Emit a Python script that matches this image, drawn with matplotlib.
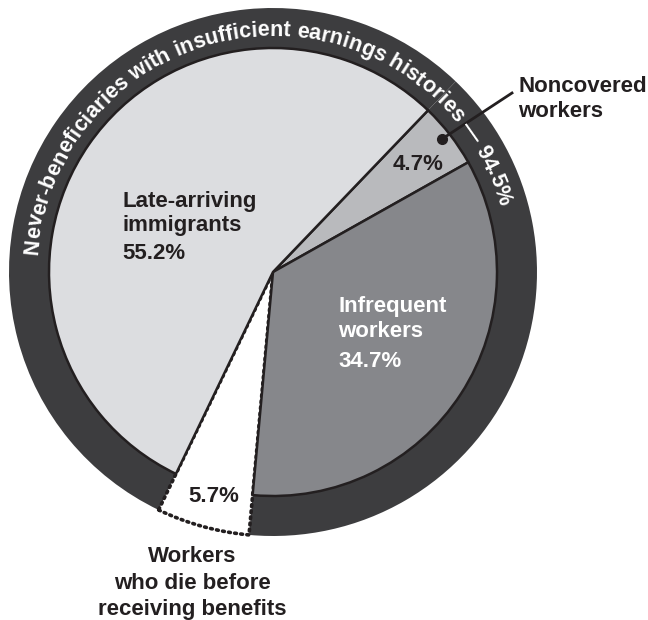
import numpy as np
import matplotlib
matplotlib.use('Agg')
import matplotlib.pyplot as plt
from matplotlib.font_manager import FontProperties, findfont, get_font

# slices, clockwise from the upper right
shares = [4.7, 34.7, 5.7, 55.2]
slice_colors = ['#b9babd', '#86878b', '#ffffff', '#dcdde0']
pct_labels = ['4.7%', '34.7%', '5.7%', '55.2%']
names = [['Noncovered', 'workers'],
         ['Infrequent', 'workers'],
         ['Workers', 'who die before', 'receiving benefits'],
         ['Late-arriving', 'immigrants']]
ring_label = 'Never-beneficiaries with insufficient earnings histories \u2014 94.5%'

DARK = '#3d3d3f'
INK = '#231f20'
FONT = ['Liberation Sans', 'DejaVu Sans']

W, H = 648, 620
cx, cy = 273, H - 272       # pie centre, in pixel units (y up)
r_in, r_out = 224, 264
start = 46.2

fig = plt.figure(figsize=(W / 100, H / 100), dpi=100)
ax = fig.add_axes([0, 0, 1, 1])

# dark ring behind everything, with a gap where the white slice pokes out
ring_vals = [shares[0] + shares[1], shares[2], shares[3]]
ring, _ = ax.pie(ring_vals, radius=r_out, center=(cx, cy), startangle=start,
                 counterclock=False, colors=[DARK, 'white', DARK],
                 wedgeprops=dict(linewidth=0))
for w in ring:
    w.set_zorder(1)
gap = ring[1]
gap.set_zorder(1.5)
gap.set_edgecolor(INK)
gap.set_linewidth(2.6)
gap.set_linestyle((0, (0.5, 1.2)))
gap.set_capstyle('round')

# inner pie
inner, _ = ax.pie(shares, radius=r_in, center=(cx, cy), startangle=start,
                  counterclock=False, colors=slice_colors,
                  wedgeprops=dict(edgecolor=INK, linewidth=1.8))
for w in inner:
    w.set_zorder(2)
inner[2].set_visible(False)

ax.set_xlim(0, W)
ax.set_ylim(0, H)
ax.axis('off')

lab = dict(fontsize=16, fontweight='bold', family=FONT, va='baseline', zorder=5)


def put_lines(x, baselines, lines, ha='left', color=INK):
    for yb, s in zip(baselines, lines):
        ax.text(x, H - yb, s, ha=ha, color=color, **lab)


# slice labels
put_lines(122, [207, 231, 259], names[3] + [pct_labels[3]])
put_lines(338, [312, 337, 367], names[1] + [pct_labels[1]], color='white')
put_lines(518, [92, 117], names[0])
put_lines(192, [562, 589, 615], names[2], ha='center')
ax.text(418, H - 170, pct_labels[0], ha='center', color=INK, **lab)
ax.text(214, H - 502, pct_labels[2], ha='center', color=INK, **lab)

# leader for noncovered
ax.plot([442, 512], [H - 139, H - 93], color=INK, lw=2, zorder=5)
ax.plot([442], [H - 139], 'o', color=INK, ms=7, zorder=6)

# text bent along the ring
fp = FontProperties(family=FONT, weight='bold', size=15.6)
font = get_font(findfont(fp))
font.set_size(fp.get_size_in_points(), fig.dpi)
advs = [font.load_char(ord(c)).linearHoriAdvance / 65536 for c in ring_label]
total = sum(advs)
r_text = 236
mid = np.radians(96)
theta0 = mid + total / (2 * r_text)
pos = 0
for ch, a in zip(ring_label, advs):
    th = theta0 - (pos + a / 2) / r_text
    ax.text(cx + r_text * np.cos(th), cy + r_text * np.sin(th), ch,
            rotation=np.degrees(th) - 90, rotation_mode='anchor',
            ha='center', va='baseline', color='white', fontproperties=fp,
            zorder=5)
    pos += a

fig.savefig('out.png', dpi=100)
